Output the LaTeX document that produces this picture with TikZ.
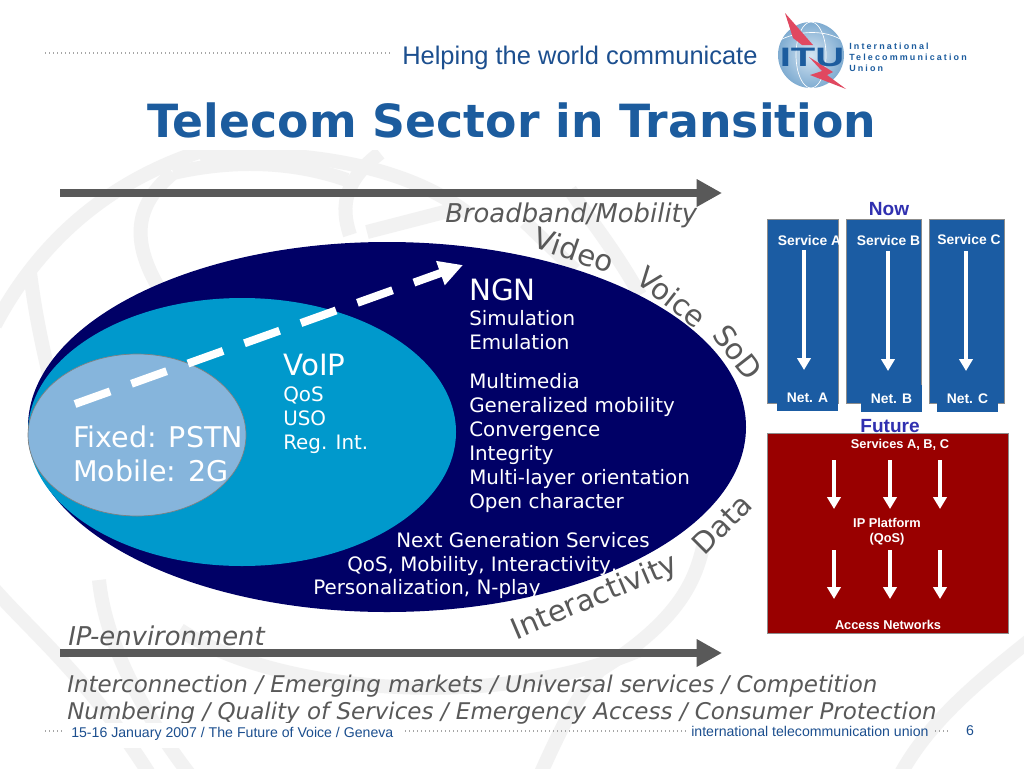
\documentclass[tikz,border=0pt]{standalone}
\usepackage{fontspec}
\setmainfont{DejaVu Sans}
\newfontfamily\arialf{Liberation Sans}
\newfontfamily\arialspaced[LetterSpace=24]{Liberation Sans}
\usetikzlibrary{arrows.meta}
\definecolor{navy}{HTML}{000066}
\definecolor{teal}{HTML}{0099CC}
\definecolor{lightb}{HTML}{86B5DC}
\definecolor{titleb}{HTML}{1C5C9E}
\definecolor{boxblue}{HTML}{1B5CA3}
\definecolor{darkred}{HTML}{990000}
\definecolor{nowb}{HTML}{3030B0}
\definecolor{wm}{HTML}{F2F2F2}
\definecolor{foot}{HTML}{1C4F8F}
\definecolor{bolt}{HTML}{E04860}
\tikzset{
  x=0.75pt,y=-0.75pt,
  bodyline/.style={font=\fontsize{14.9}{18}\selectfont,text=white,anchor=base west,inner sep=0pt},
  head/.style={font=\fontsize{22}{26}\selectfont,text=white,anchor=base west,inner sep=0pt},
  curve/.style={font=\fontsize{22}{26}\selectfont,text=black!65,inner sep=0pt},
  ital/.style={font=\fontsize{17.25}{20}\selectfont\itshape,text=black!65,anchor=west,inner sep=0pt},
  italbig/.style={font=\fontsize{19.4}{23}\selectfont\itshape,text=black!65,anchor=west,inner sep=0pt},
  wlabel/.style={font=\arialf\bfseries\fontsize{10.4}{12}\selectfont,text=white,inner sep=0pt,align=center},
  rlabel/.style={font=\arialf\bfseries\fontsize{9.6}{11.5}\selectfont,text=white,inner sep=0pt,align=center},
  footer/.style={font=\arialf\fontsize{10.6}{12}\selectfont,text=foot,inner sep=0pt},
  dots/.style={draw=gray!70,line width=1pt,dotted},
  bigarrow/.style={draw=black!65,line width=6pt,-{Triangle[length=19pt,width=19.5pt]}},
  warrow/.style={draw=white,line width=3pt,-{Triangle[length=9pt,width=10pt]}},
  bluebox/.style={fill=boxblue,draw=black!45,line width=0.6pt},
  water/.style={draw=wm,line width=10.5pt},
  heading/.style={font=\arialf\bfseries\fontsize{14.3}{16}\selectfont,text=nowb,inner sep=0pt},
}
\begin{document}
\begin{tikzpicture}
\useasboundingbox (0,0) rectangle (1024,768);
\fill[white] (0,0) rectangle (1024,768);
% watermark
\begin{scope}
\clip (0,150) rectangle (1024,768);
\draw[water] (-5,325) .. controls (40,240) and (110,180) .. (205,150);
\draw[water] (30,273) .. controls (35,310) and (40,340) .. (60,420);
\draw[water] (160,290) .. controls (130,240) and (135,205) .. (173,173);
\draw[water] (173,173) .. controls (230,160) and (290,160) .. (347,180);
\draw[water] (200,155) .. controls (290,150) and (400,160) .. (470,215);
\draw[water] (350,235) .. controls (340,205) and (345,180) .. (380,153);
\draw[water] (367,232) -- (460,208);
\draw[water] (570,190) .. controls (590,220) and (615,250) .. (640,295);
\draw[water] (525,222) -- (575,270);
\draw[water] (-5,590) .. controls (30,630) and (90,680) .. (150,775);
\draw[water] (99,580) .. controls (105,640) and (140,710) .. (190,775);
\draw[water] (703,547) .. controls (695,580) and (680,620) .. (600,670) .. controls (580,690) and (560,730) .. (540,775);
\draw[water] (180,630) .. controls (280,695) and (500,710) .. (640,650);
\draw[water] (1030,640) .. controls (980,680) and (930,720) .. (900,775);
\end{scope}
% top band
\coordinate (dt1) at (45,53); \coordinate (dt2) at (390,53);
\draw[dots] (dt1) -- (dt2);
\node[font=\arialf\fontsize{19.1}{23}\selectfont,text=foot,anchor=west,inner sep=0pt] (slogan) at (402,58) {Helping the world communicate};
% logo
\shade[inner color=lightb!35,outer color=lightb!95!black] (811,55) circle [x radius=33,y radius=33];
\draw[white,line width=0.5pt] (811,55) circle [x radius=15,y radius=33];
\draw[white,line width=0.5pt] (780,40) .. controls (800,30) and (825,30) .. (842,40);
\fill[bolt] (785,13) -- (813,45) -- (802,45) -- (793,38) -- cycle;
\fill[bolt] (809,57) -- (833,72) -- (827,75) -- (846,89) -- (810,75) -- (822,71) -- cycle;
\node[font=\arialf\bfseries\fontsize{20}{24}\selectfont,text=titleb,inner sep=0pt] (itu) at (812,57) {\scalebox{1.5}[1]{ITU}};
\node[font=\arialspaced\bfseries\fontsize{6.7}{8.3}\selectfont,text=titleb,anchor=north west,inner sep=0pt,align=left] (itutext) at (849,43) {International\\Telecommunication\\Union};
% title
\node[font=\bfseries\fontsize{34.3}{42}\selectfont,text=titleb,inner sep=0pt] (title) at (512,120) {Telecom Sector in Transition};
% arrows
\coordinate (t1) at (60,193); \coordinate (t2) at (722,193);
\coordinate (b1) at (60,653); \coordinate (b2) at (722,653);
\draw[bigarrow] (t1) -- (t2);
\draw[bigarrow] (b1) -- (b2);
% ellipses
\fill[navy] (387,427) circle [x radius=359,y radius=185];
\fill[teal] (242,432) circle [x radius=214,y radius=134];
\draw[black!50,line width=0.5pt,fill=lightb] (137,435) circle [x radius=109,y radius=81];
% dashed arrow
\coordinate (d1) at (75,404); \coordinate (d2) at (463,265);
\draw[draw=white,line width=6pt,dash pattern=on 28pt off 17pt,-{Triangle[length=18pt,width=18pt]}] (d1) -- (d2);
% labels
\node[font=\fontsize{21.4}{25}\selectfont,text=white,anchor=base west,inner sep=0pt] (pstn1) at (73,447) {Fixed: PSTN};
\node[font=\fontsize{21.4}{25}\selectfont,text=white,anchor=base west,inner sep=0pt] (pstn2) at (73,481) {Mobile: 2G};
\node[head] (voip) at (283,375) {VoIP};
\node[bodyline] (v1) at (283,401) {QoS};
\node[bodyline] (v2) at (283,425) {USO};
\node[bodyline] (v3) at (283,449) {Reg. Int.};
\node[head] (ngn) at (469,300) {NGN};
\node[bodyline] (n1) at (469,325) {Simulation};
\node[bodyline] (n2) at (469,349) {Emulation};
\node[bodyline] (n3) at (469,388) {Multimedia};
\node[bodyline] (n4) at (469,412) {Generalized mobility};
\node[bodyline] (n5) at (469,436) {Convergence};
\node[bodyline] (n6) at (469,460) {Integrity};
\node[bodyline] (n7) at (469,484) {Multi-layer orientation};
\node[bodyline] (n8) at (469,508) {Open character};
\node[bodyline] (g1) at (396,547) {Next Generation Services};
\node[bodyline] (g2) at (347,571) {QoS, Mobility, Interactivity,};
\node[bodyline] (g3) at (313,594) {Personalization, N-play};
% curved labels
\node[curve,rotate=-19] (video) at (574,250) {Video};
\node[curve,rotate=-38] (voice) at (672,297) {Voice};
\node[curve,rotate=-52] (sod) at (738,352) {SoD};
\node[curve,rotate=45] (data) at (722,524) {Data};
\node[curve,rotate=23] (inter) at (595,598) {Interactivity};
% italics
\node[italbig] (bb) at (445,215) {Broadband/Mobility};
\node[italbig] (ip) at (68,636) {IP-environment};
\node[ital] (i1) at (67,686) {Interconnection / Emerging markets / Universal services / Competition};
\node[ital] (i2) at (67,713) {Numbering / Quality of Services / Emergency Access / Consumer Protection};
% footer
\fill[white] (62,723) rectangle (405,748);
\coordinate (l1) at (45,731); \coordinate (l2) at (62,731);
\coordinate (m1) at (405,731); \coordinate (m2) at (686,731);
\coordinate (r1) at (935,731); \coordinate (r2) at (950,731);
\draw[dots] (l1) -- (l2);
\draw[dots] (m1) -- (m2);
\draw[dots] (r1) -- (r2);
\node[footer,anchor=west] (f1) at (71,734) {15-16 January 2007 / The Future of Voice / Geneva};
\node[footer,anchor=west] (f2) at (691,731) {international telecommunication union};
\node[footer] (f3) at (970,731) {6};
% Now
\node[heading] (now) at (889,209) {Now};
\draw[bluebox] (767,219) rectangle (838,403);
\draw[bluebox] (846,219) rectangle (921,403);
\draw[bluebox] (929,219) rectangle (1004,403);
\fill[boxblue] (777,385) rectangle (838,411);
\fill[boxblue] (861,385) rectangle (922,412);
\fill[boxblue] (937,385) rectangle (998,412);
\node[wlabel] (sa) at (809.5,240.5) {Service A};
\node[wlabel] (sb) at (888.5,240.5) {Service B};
\node[wlabel] (sc) at (969,240) {Service C};
\node[wlabel] (na) at (807.5,398) {Net. A};
\node[wlabel] (nb) at (891.5,398.5) {Net. B};
\node[wlabel] (nc) at (967.5,398.5) {Net. C};
\coordinate (a1) at (804,250); \coordinate (a2) at (804,370);
\coordinate (b3) at (888,251); \coordinate (b4) at (888,371);
\coordinate (c1) at (966,251); \coordinate (c2) at (966,371);
\draw[warrow] (a1) -- (a2);
\draw[warrow] (b3) -- (b4);
\draw[warrow] (c1) -- (c2);
% Future
\node[heading] (fut) at (890,426) {Future};
\draw[fill=darkred,draw=black!45,line width=0.6pt] (767,433) rectangle (1008,633);
\node[rlabel] (sv) at (900,445) {Services A, B, C};
\node[rlabel] (pf) at (887,532) {IP Platform\\(QoS)};
\node[rlabel] (ac) at (888,625) {Access Networks};
\coordinate (e1) at (834,460); \coordinate (e2) at (834,509);
\coordinate (e3) at (890,460); \coordinate (e4) at (890,509);
\coordinate (e5) at (940,460); \coordinate (e6) at (940,509);
\coordinate (h1) at (834,550); \coordinate (h2) at (834,599);
\coordinate (h3) at (890,550); \coordinate (h4) at (890,599);
\coordinate (h5) at (940,550); \coordinate (h6) at (940,599);
\draw[warrow] (e1) -- (e2);
\draw[warrow] (e3) -- (e4);
\draw[warrow] (e5) -- (e6);
\draw[warrow] (h1) -- (h2);
\draw[warrow] (h3) -- (h4);
\draw[warrow] (h5) -- (h6);
\end{tikzpicture}
\end{document}
